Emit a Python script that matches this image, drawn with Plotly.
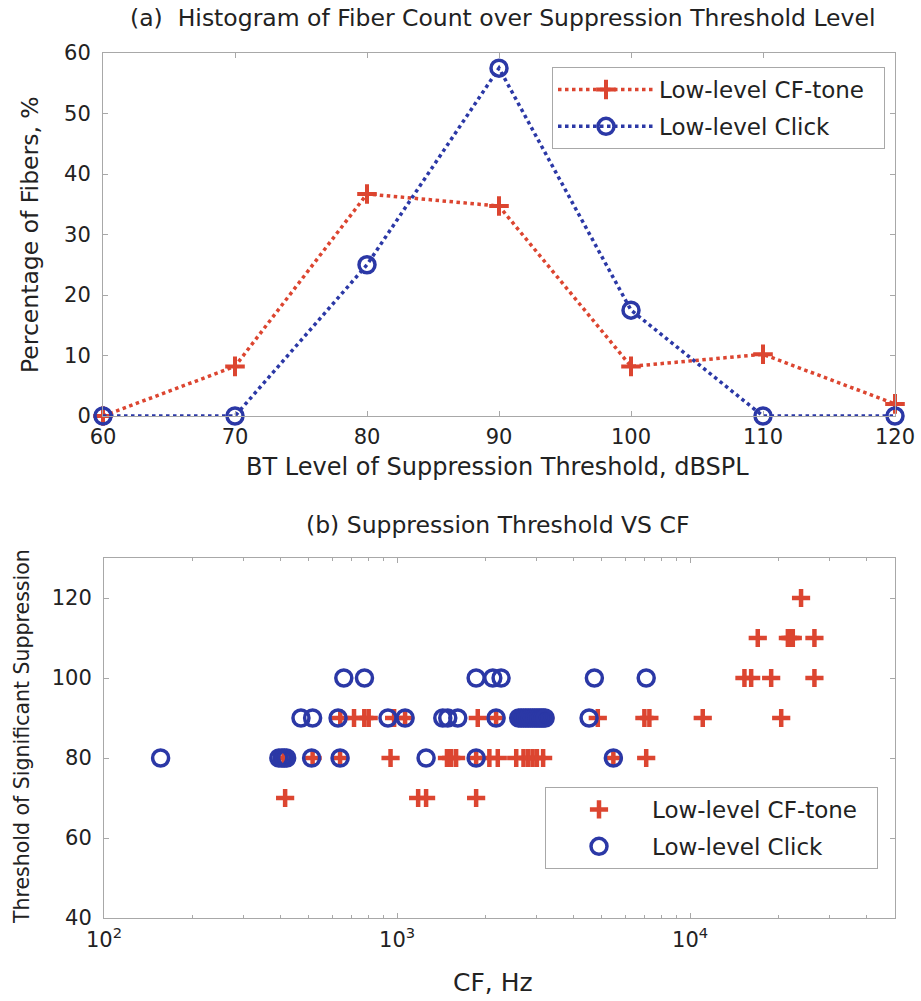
import plotly.graph_objects as go

# ---------------- data: panel (a) histogram ----------------
levels = [60, 70, 80, 90, 100, 110, 120]
pct_tone = [0, 8.2, 36.7, 34.7, 8.2, 10.2, 2.0]
pct_click = [0, 0, 25.0, 57.5, 17.5, 0, 0]

# ---------------- data: panel (b) threshold vs CF ----------------
tone70 = [415, 1180, 1256, 1861]
tone80 = [410, 515, 639, 950, 1480, 1530, 1590, 1861, 2065, 2206, 2550, 2700,
          2800, 2900, 3000, 3150, 5470, 7080]
tone90 = [640, 713, 773, 800, 977, 1065, 1885, 2177, 2700, 2900, 3050, 3200,
          4840, 6980, 7260, 11040, 20450]
tone100 = [15320, 16150, 18900, 26550]
tone110 = [17010, 21550, 22000, 22400, 26550]
tone120 = [23900]

click80 = [156, 395, 405, 412, 420, 511, 639, 1256, 1861, 5470]
click90 = [470, 515, 629, 931, 1065, 1432, 1489, 1611, 2177, 2600, 2650, 2700,
           2750, 2800, 2850, 2900, 2950, 3000, 3050, 3100, 3150, 3200, 4520]
click100 = [658, 774, 1861, 2121, 2264, 4712, 7080]

tone_groups = [(70, tone70), (80, tone80), (90, tone90), (100, tone100),
               (110, tone110), (120, tone120)]
click_groups = [(80, click80), (90, click90), (100, click100)]

tone_cf = [c for _, g in tone_groups for c in g]
tone_thr = [lv for lv, g in tone_groups for _ in g]
click_cf = [c for _, g in click_groups for c in g]
click_thr = [lv for lv, g in click_groups for _ in g]

RED = "#dc4530"
BLUE = "#2b38a6"
AX = "#a8a8a8"
TXT = "#222222"
FONT = "DejaVu Sans, Arial, sans-serif"
PAD = "\u00a0\u00a0"

W, H = 921, 1001


def px_x(p):
    return p / W


def px_y(p):
    return 1 - p / H


fig = go.Figure()

# panel (a)
fig.add_trace(go.Scatter(
    x=levels, y=pct_tone, mode="lines+markers", name="Low-level CF-tone" + PAD,
    line=dict(color=RED, width=3.5, dash="dot"),
    marker=dict(symbol="cross-thin-open", size=14, color=RED,
                line=dict(color=RED, width=4)),
    xaxis="x", yaxis="y", cliponaxis=False, legend="legend", legendgroup="a1"))
fig.add_trace(go.Scatter(
    x=levels, y=pct_click, mode="lines+markers", name="Low-level Click",
    line=dict(color=BLUE, width=3.5, dash="dot"),
    marker=dict(symbol="circle-open", size=16, color=BLUE,
                line=dict(color=BLUE, width=3.5)),
    xaxis="x", yaxis="y", cliponaxis=False, legend="legend", legendgroup="a2"))

# panel (b)
fig.add_trace(go.Scatter(
    x=tone_cf, y=tone_thr, mode="markers", name="Low-level CF-tone" + PAD,
    marker=dict(symbol="cross-thin-open", size=13, color=RED,
                line=dict(color=RED, width=4.5)),
    xaxis="x2", yaxis="y2", legend="legend2", legendgroup="b1"))
fig.add_trace(go.Scatter(
    x=click_cf, y=click_thr, mode="markers", name="Low-level Click",
    marker=dict(symbol="circle-open", size=16, color=BLUE,
                line=dict(color=BLUE, width=3.5)),
    xaxis="x2", yaxis="y2", legend="legend2", legendgroup="b2"))

axis_common = dict(showline=True, linecolor=AX, linewidth=1, mirror="ticks",
                   ticks="inside", ticklen=5, tickcolor=AX, showgrid=False,
                   zeroline=False, automargin=False,
                   tickfont=dict(size=21, color=TXT, family=FONT))

legend_common = dict(xanchor="left", yanchor="top", bgcolor="white",
                     bordercolor=AX, borderwidth=1, itemwidth=96,
                     traceorder="grouped", tracegroupgap=4,
                     font=dict(size=23, color=TXT, family=FONT))

fig.update_layout(
    template="none",
    width=W, height=H,
    margin=dict(l=0, r=0, t=0, b=0, pad=0),
    paper_bgcolor="white", plot_bgcolor="white",
    font=dict(family=FONT, color=TXT),
    xaxis=dict(domain=[px_x(103), px_x(895)], range=[60, 120],
               tickvals=levels, anchor="y", ticklabelstandoff=2, **axis_common),
    yaxis=dict(domain=[px_y(416), px_y(53)], range=[0, 60],
               tickvals=[0, 10, 20, 30, 40, 50, 60], anchor="x",
               ticklabelstandoff=7, **axis_common),
    xaxis2=dict(domain=[px_x(104), px_x(895)], type="log",
                range=[2, 4.69897], tickvals=[100, 1000, 10000],
                ticktext=["10<sup>2</sup>", "10<sup>3</sup>", "10<sup>4</sup>"],
                minor=dict(ticks="inside", ticklen=3, tickcolor=AX, dtick="D1"),
                anchor="y2", ticklabelstandoff=3, **axis_common),
    yaxis2=dict(domain=[px_y(918), px_y(558)], range=[40, 130],
                tickvals=[40, 60, 80, 100, 120], anchor="x2",
                ticklabelstandoff=7, **axis_common),
    legend=dict(x=px_x(552), y=px_y(67), **legend_common),
    legend2=dict(x=px_x(545), y=px_y(787), **legend_common),
    showlegend=True,
)

ann = [
    ("(a)  Histogram of Fiber Count over Suppression Threshold Level", 502, 18, 0, 23.5),
    ("BT Level of Suppression Threshold, dBSPL", 497, 467, 0, 24),
    ("Percentage of Fibers, %", 30, 235, -90, 23.5),
    ("(b) Suppression Threshold VS CF", 497, 525, 0, 23.5),
    ("CF, Hz", 493, 982, 0, 25),
    ("Threshold of Significant Suppression", 22, 737, -90, 20.5),
]
for text, x, y, ang, size in ann:
    fig.add_annotation(text=text, x=px_x(x), y=px_y(y), xref="paper", yref="paper",
                       showarrow=False, textangle=ang, xanchor="center", yanchor="middle",
                       font=dict(size=size, color=TXT, family=FONT))

fig.write_html("out.html", config={"displayModeBar": False},
               post_script="document.body.style.margin='0';document.body.style.overflow='hidden';")
